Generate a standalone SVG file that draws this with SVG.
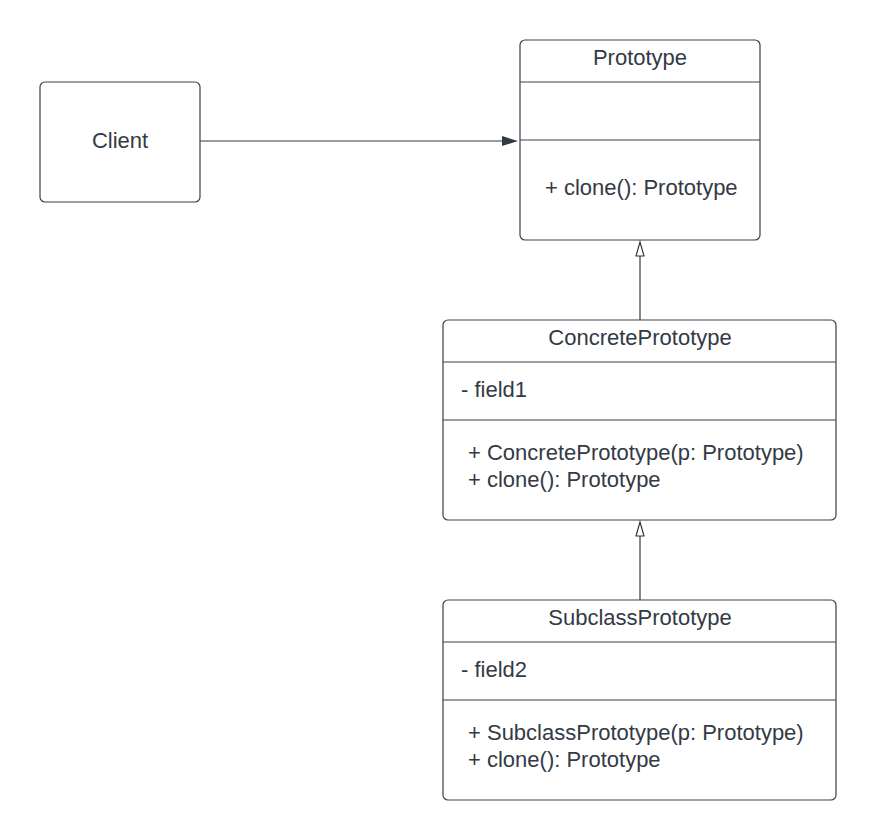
<svg xmlns="http://www.w3.org/2000/svg" width="877" height="840" viewBox="0 0 877 840">
<style>
.box{fill:#ffffff;stroke:#3a414a;stroke-width:1.2}
.div{stroke:#3a414a;stroke-width:1.2}
.t{font-family:"Liberation Sans",Arial,sans-serif;font-size:22px;fill:#333a45}
.c{text-anchor:middle}
.ln{stroke:#333a45;stroke-width:1.2;fill:none}
</style>
<rect width="877" height="840" fill="#ffffff"/>
<g id="connectors">
<line class="ln" x1="200" y1="141" x2="504" y2="141"/>
<polygon points="502,136 518,141 502,146" fill="#333a45"/>
<line class="ln" x1="640" y1="320" x2="640" y2="256"/>
<polygon points="640,242 636,256 644,256" fill="#ffffff" stroke="#333a45" stroke-width="1.2"/>
<line class="ln" x1="640" y1="600" x2="640" y2="536"/>
<polygon points="640,522 636,536 644,536" fill="#ffffff" stroke="#333a45" stroke-width="1.2"/>
</g>
<g id="client">
<rect class="box" x="40" y="82" width="160" height="120" rx="5"/>
<text class="t c" x="120" y="148">Client</text>
</g>
<g id="prototype">
<rect class="box" x="520" y="40" width="240" height="200" rx="5"/>
<line class="div" x1="520" y1="82" x2="760" y2="82"/>
<line class="div" x1="520" y1="140" x2="760" y2="140"/>
<text class="t c" x="640" y="65">Prototype</text>
<text class="t" x="545" y="195">+ clone(): Prototype</text>
</g>
<g id="concrete">
<rect class="box" x="443" y="320" width="393" height="200" rx="5"/>
<line class="div" x1="443" y1="362" x2="836" y2="362"/>
<line class="div" x1="443" y1="420" x2="836" y2="420"/>
<text class="t c" x="640" y="345">ConcretePrototype</text>
<text class="t" x="461" y="397">- field1</text>
<text class="t" x="468" y="460">+ ConcretePrototype(p: Prototype)</text>
<text class="t" x="468" y="487">+ clone(): Prototype</text>
</g>
<g id="subclass">
<rect class="box" x="443" y="600" width="393" height="200" rx="5"/>
<line class="div" x1="443" y1="642" x2="836" y2="642"/>
<line class="div" x1="443" y1="700" x2="836" y2="700"/>
<text class="t c" x="640" y="625">SubclassPrototype</text>
<text class="t" x="461" y="677">- field2</text>
<text class="t" x="468" y="740">+ SubclassPrototype(p: Prototype)</text>
<text class="t" x="468" y="767">+ clone(): Prototype</text>
</g>
</svg>
